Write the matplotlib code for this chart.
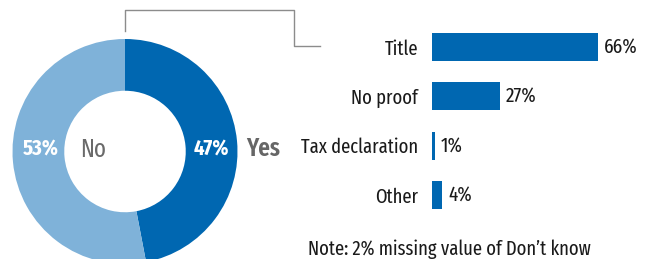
import matplotlib
matplotlib.use("Agg")
import matplotlib.pyplot as plt
from matplotlib.lines import Line2D

plt.rcParams['font.family'] = ['Fira Sans Extra Condensed', 'DejaVu Sans']

# data
pie_labels = ["Yes", "No"]
pie_values = [47, 53]
bar_labels = ["Title", "No proof", "Tax declaration", "Other"]
bar_values = [66, 27, 1, 4]
note = "Note: 2% missing value of Don\u2019t know"

dark = "#0067b1"
light = "#7fb2d9"
txt = "#1a1a1a"
W, H = 651, 259

fig = plt.figure(figsize=(W / 100, H / 100), dpi=100)

# donut
cx, cy, r = 125, 151.5, 112.5
ax = fig.add_axes([(cx - r) / W, (H - cy - r) / H, 2 * r / W, 2 * r / H])
ax.pie(pie_values, colors=[dark, light], startangle=90, counterclock=False,
       radius=1, wedgeprops=dict(width=0.46, linewidth=0))
ax.set_xlim(-1, 1)
ax.set_ylim(-1, 1)
ax.set_aspect('equal')
ax.axis('off')
ax.text(0.93, 0.02, f"{pie_values[0]}%", color="white", fontsize=16, fontweight="bold",
        ha="right", va="center")
ax.text(-0.91, 0.02, f"{pie_values[1]}%", color="white", fontsize=16, fontweight="bold",
        ha="left", va="center")
ax.text(1.08, 0.02, pie_labels[0], color="#666666", fontsize=18, fontweight="semibold",
        ha="left", va="center", clip_on=False)
ax.text(-0.28, 0.02, pie_labels[1], color="#6a6a6a", fontsize=18,
        ha="center", va="center")

# bars
step = 49.3
top = 47 - step / 2
bot = 195 + step / 2
x0 = 432
ppu = 2.52
bx = fig.add_axes([x0 / W, (H - bot) / H, (W - x0) / W, (bot - top) / H])
ypos = list(range(len(bar_values)))
bx.barh(ypos, bar_values, height=0.57, color=dark)
bx.set_xlim(0, (W - x0) / ppu)
bx.set_ylim(len(bar_values) - 0.5, -0.5)
for s in bx.spines.values():
    s.set_visible(False)
bx.set_xticks([])
bx.set_yticks(ypos)
bx.set_yticklabels(bar_labels, fontsize=14.5, color=txt)
bx.tick_params(axis='y', length=0, pad=10)
for y, v in zip(ypos, bar_values):
    bx.text(v + 2.3, y, f"{v}%", fontsize=15, color=txt, ha="left", va="center")

# connector
def fx(x):
    return x / W

def fy(y):
    return (H - y) / H

pts = [(125, 31), (125, 10), (294, 10), (294, 46), (320, 46)]
fig.add_artist(Line2D([fx(p[0]) for p in pts], [fy(p[1]) for p in pts],
                      color="#8c8c8c", linewidth=1.0))

fig.text(fx(308), fy(255), note, fontsize=14.5, color=txt, ha="left", va="baseline")

fig.savefig("out.png", dpi=100)
